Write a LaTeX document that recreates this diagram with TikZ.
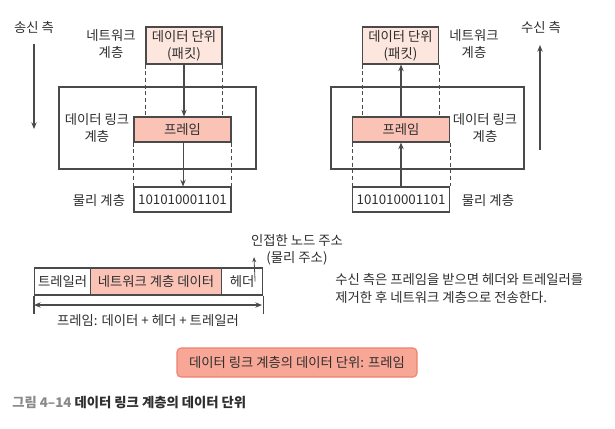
\documentclass[tikz,border=0pt]{standalone}
\usepackage{fontspec}
\setmainfont{Noto Sans CJK KR}
\usetikzlibrary{arrows.meta}
\definecolor{netfill}{HTML}{FDE6DE}
\definecolor{framefill}{HTML}{FBC3B6}
\definecolor{notefill}{HTML}{F8A696}
\definecolor{notedraw}{HTML}{EF8171}
\definecolor{linegray}{HTML}{4A4A4A}
\definecolor{txtgray}{HTML}{2E2E2E}
\definecolor{capgray}{HTML}{8A8A8A}
\begin{document}
\begin{tikzpicture}[x=0.75pt,y=-0.75pt,
    font=\fontsize{10}{13}\selectfont,
    every node/.style={text=txtgray},
    unitbox/.style={draw=linegray,line width=0.8pt,inner sep=0pt,align=center,minimum width=72.75pt,minimum height=18.75pt},
    layerbox/.style={draw=linegray,line width=0.8pt,inner sep=0pt,minimum height=61.5pt},
    flow/.style={draw=linegray,line width=0.8pt,-{Stealth[length=5pt,width=4pt]}},
    guide/.style={draw=linegray,line width=0.6pt,dash pattern=on 3pt off 2pt},
    layerlbl/.style={align=center,inner sep=0pt}]
    \useasboundingbox (0,0) rectangle (615,429);

    % sending side
    \node[layerbox,minimum width=147.75pt] (linkL) at (157.5,128) {};
    \node[unitbox,fill=netfill,minimum width=57pt,minimum height=27.75pt] (netL) at (184,45.5) {데이터 단위\\(패킷)};
    \node[unitbox,fill=framefill] (frameL) at (182.5,129.5) {프레임};
    \node[unitbox] (physL) at (182.5,199.5) {101010001101};
    \draw[guide] (netL.south west) -- (netL.south west |- frameL.north);
    \draw[guide] (netL.south east) -- (netL.south east |- frameL.north);
    \draw[guide] (frameL.south west) -- (frameL.south west |- physL.north);
    \draw[guide] (frameL.south east) -- (frameL.south east |- physL.north);
    \draw[flow] (netL.south) -- (netL.south |- frameL.north);
    \draw[flow] ([xshift=0.4pt]frameL.south) -- ([xshift=0.4pt]physL.north);
    \node[layerlbl] (netLlbl) at (111,44) {네트워크\\계층};
    \node[layerlbl] (linkLlbl) at (97,128) {데이터 링크\\계층};
    \node[layerlbl] (physLlbl) at (99,200) {물리 계층};
    \node[layerlbl] (sendlbl) at (34,27) {송신 측};
    \coordinate (sendend) at (34,129);
    \draw[flow] (sendlbl.south |- 0,44) -- (sendend);

    % receiving side
    \node[layerbox,minimum width=144.75pt] (linkR) at (427.5,128) {};
    \node[unitbox,fill=netfill,minimum width=57pt,minimum height=27.75pt] (netR) at (400.5,45.5) {데이터 단위\\(패킷)};
    \node[unitbox,fill=framefill] (frameR) at (401,129.5) {프레임};
    \node[unitbox] (physR) at (401,199.5) {101010001101};
    \draw[guide] (netR.south west) -- (netR.south west |- frameR.north);
    \draw[guide] (netR.south east) -- (netR.south east |- frameR.north);
    \draw[guide] (frameR.south west) -- (frameR.south west |- physR.north);
    \draw[guide] (frameR.south east) -- (frameR.south east |- physR.north);
    \draw[flow] (physR.north) -- (frameR.south);
    \draw[flow] (frameR.north) -- (frameR.north |- netR.south);
    \node[layerlbl] (netRlbl) at (474,44) {네트워크\\계층};
    \node[layerlbl] (linkRlbl) at (485,128) {데이터 링크\\계층};
    \node[layerlbl] (physRlbl) at (488,200) {물리 계층};
    \node[layerlbl] (recvlbl) at (541,27) {수신 측};
    \coordinate (recvstart) at (540,150);
    \draw[flow] (recvstart) -- (recvstart |- 0,45);

    % frame layout
    \foreach \nm/\x/\w/\fl/\txt in {trl/34/42/white/트레일러,dat/90/98.25/framefill/네트워크 계층 데이터,hdr/221/30.75/white/헤더} {
        \node[draw=linegray,line width=0.8pt,fill=\fl,inner sep=0pt,minimum width=\w pt,minimum height=20.25pt,anchor=west] (\nm) at (\x,281.5) {\txt};
    }
    \draw[linegray,line width=0.8pt] (trl.south west) -- ++(0,18);
    \draw[linegray,line width=0.8pt] (hdr.south east) -- ++(0,18);
    \coordinate (spanL) at (34,305);
    \coordinate (spanR) at (262,305);
    \draw[flow,{Stealth[length=5pt,width=4pt]}-{Stealth[length=5pt,width=4pt]}] (spanL) -- (spanR);
    \node (spanlbl) at (148,321) {프레임: 데이터 + 헤더 + 트레일러};
    \node[layerlbl] (addrlbl) at (297,250) {인접한 노드 주소\\(물리 주소)};
    \coordinate (addrtip) at (254,257);
    \draw[linegray,line width=0.6pt,-{Stealth[length=4pt,width=3pt]}] ([xshift=-6pt]hdr.east) -- (addrtip);
    \node[layerlbl,align=left,anchor=west] (notelbl) at (335,288.5) {수신 측은 프레임을 받으면 헤더와 트레일러를\\제거한 후 네트워크 계층으로 전송한다.};

    % summary and caption
    \node[draw=notedraw,fill=notefill,line width=0.8pt,rounded corners=3pt,minimum width=180pt,minimum height=21.75pt] (summary) at (297,362.5) {데이터 링크 계층의 데이터 단위: 프레임};
    \node[anchor=west,inner sep=0pt,font=\fontsize{10}{13}\selectfont\bfseries] (caption) at (12,403) {\textcolor{capgray}{그림 4--14} 데이터 링크 계층의 데이터 단위};
\end{tikzpicture}
\end{document}
